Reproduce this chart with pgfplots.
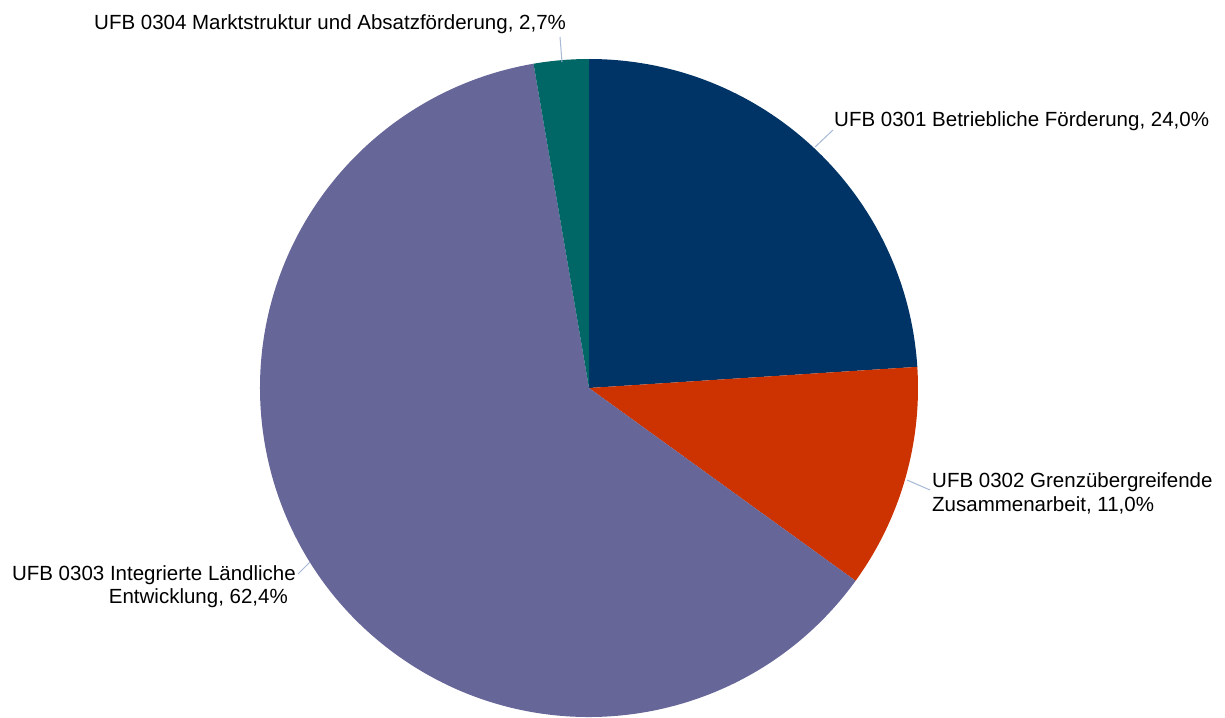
\documentclass[border=0pt]{standalone}
\usepackage{pgfplots}
\pgfplotsset{compat=1.18}
\usepackage{pgfplotstable}
\usepackage{fontspec}
\setmainfont{Liberation Sans}

\definecolor{pie0}{HTML}{003366}
\definecolor{pie1}{HTML}{CC3300}
\definecolor{pie2}{HTML}{666699}
\definecolor{pie3}{HTML}{006666}
\definecolor{leader}{RGB}{166,184,214}

% shares in percent, clockwise from 12 o'clock
\pgfplotstableread{
share
24.0
11.0
62.4
2.7
}\pietable

\begin{document}
\begin{tikzpicture}[font=\fontsize{20.5}{24}\selectfont]
\def\total{0}
\pgfplotsforeachungrouped \i in {0,...,3}{%
  \pgfplotstablegetelem{\i}{share}\of\pietable
  \pgfmathsetmacro\total{\total+\pgfplotsretval}%
}
\begin{axis}[
  scale only axis, width=1225pt, height=717pt,
  xmin=0, xmax=1225, ymin=0, ymax=717, y dir=reverse,
  hide axis, clip=true,
]
\path (axis cs:0,0) rectangle (axis cs:1225,717);
% wedges
\def\startang{90}
\pgfplotsforeachungrouped \i in {0,...,3}{%
  \pgfplotstablegetelem{\i}{share}\of\pietable
  \pgfmathsetmacro\endang{\startang-\pgfplotsretval/\total*360}%
  \edef\wedge{\noexpand\fill[pie\i] (axis cs:589,388) -- ++(\startang:329pt)
    arc[start angle=\startang, end angle=\endang, radius=329pt] -- cycle;}%
  \wedge
  \let\startang\endang
}
% leader lines
\draw[leader, line width=1pt] (axis cs:560,37) -- (axis cs:562,62);
\draw[leader, line width=1pt] (axis cs:833,130) -- (axis cs:815,147);
\draw[leader, line width=1pt] (axis cs:907,480) -- (axis cs:930,490);
\draw[leader, line width=1pt] (axis cs:298,574) -- (axis cs:310,562);
% labels
\node[anchor=base west, inner sep=0] at (axis cs:94,30) {UFB 0304 Marktstruktur und Absatzförderung, 2,7\%};
\node[anchor=base west, inner sep=0] at (axis cs:834,126) {UFB 0301 Betriebliche Förderung, 24,0\%};
\node[anchor=base west, inner sep=0] at (axis cs:932,487) {UFB 0302 Grenzübergreifende};
\node[anchor=base west, inner sep=0] at (axis cs:932,511) {Zusammenarbeit, 11,0\%};
\node[anchor=base east, inner sep=0] at (axis cs:296,580) {UFB 0303 Integrierte Ländliche};
\node[anchor=base east, inner sep=0] at (axis cs:288,603) {Entwicklung, 62,4\%};
\end{axis}
\end{tikzpicture}
\end{document}
